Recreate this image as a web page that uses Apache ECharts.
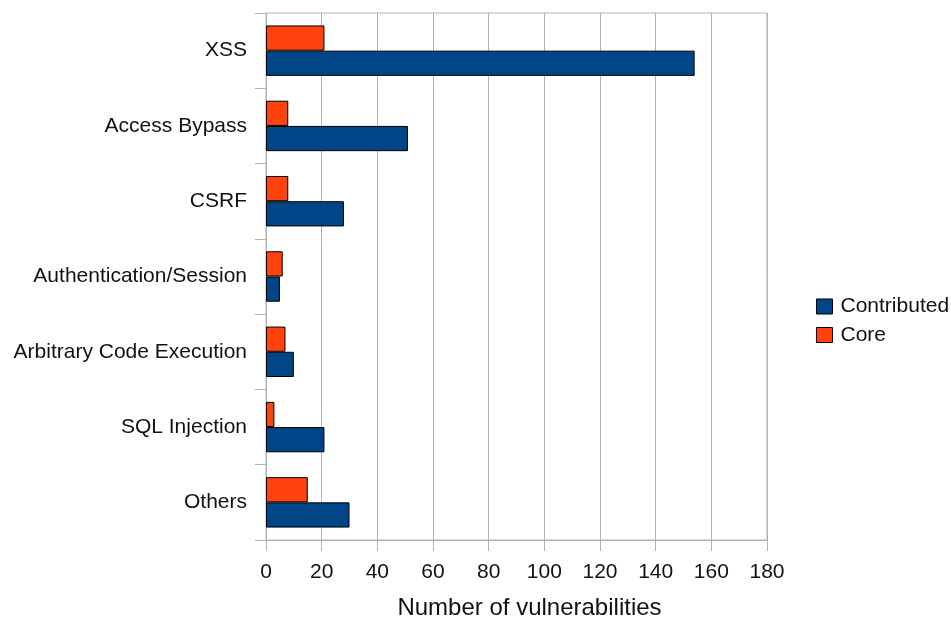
<!DOCTYPE html>
<html><head><meta charset="utf-8">
<script src="https://cdn.jsdelivr.net/npm/echarts@6/dist/echarts.min.js"></script>
<style>html,body{margin:0;padding:0;background:#fff}#c{width:951px;height:620px}</style>
</head><body><div id="c"></div>
<script>
const categories = ['XSS','Access Bypass','CSRF','Authentication/Session','Arbitrary Code Execution','SQL Injection','Others'];
const contributed = [154, 51, 28, 5, 10, 21, 30];
const core = [21, 8, 8, 6, 7, 3, 15];
const xTicks = {min: 0, max: 180, interval: 20};

const chart = echarts.init(document.getElementById('c'));
const font = 'Liberation Sans, Arial, sans-serif';
chart.setOption({
  animation: false,
  textStyle: {fontFamily: font},
  grid: {left: 266, right: 184, top: 13, bottom: 80, show: true, borderColor: '#b3b3b3', borderWidth: 1,
         outerBoundsMode: 'none', containLabel: false},
  legend: {
    orient: 'vertical', left: 811, top: 291, itemWidth: 16, itemHeight: 15, itemGap: 7.5,
    icon: 'rect',
    data: ['Contributed', 'Core'],
    textStyle: {fontSize: 21, color: '#111', fontFamily: font, padding: [0,0,0,3]},
    itemStyle: {borderColor: '#000', borderWidth: 1}
  },
  xAxis: {
    type: 'value', min: xTicks.min, max: xTicks.max, interval: xTicks.interval,
    name: 'Number of vulnerabilities', nameLocation: 'middle', nameGap: 56,
    nameTextStyle: {fontSize: 24, color: '#111', fontFamily: font, padding: [0,0,0,26]},
    axisLine: {show: true, lineStyle: {color: '#b3b3b3'}},
    axisTick: {show: true, length: 11, lineStyle: {color: '#b3b3b3'}},
    axisLabel: {fontSize: 21, color: '#111', margin: 22, fontFamily: font},
    splitLine: {show: true, lineStyle: {color: '#b3b3b3'}}
  },
  yAxis: {
    type: 'category', data: categories, inverse: true,
    axisLine: {show: true, lineStyle: {color: '#b3b3b3'}},
    axisTick: {show: true, length: 11, lineStyle: {color: '#b3b3b3'}},
    axisLabel: {fontSize: 21, color: '#111', margin: 19, fontFamily: font},
    splitLine: {show: false}
  },
  series: [
    {name: 'Core', type: 'bar', data: core, barGap: '0%', barCategoryGap: '33%',
     itemStyle: {color: '#ff420e', borderColor: '#000', borderWidth: 1}},
    {name: 'Contributed', type: 'bar', data: contributed, barGap: '0%', barCategoryGap: '33%',
     itemStyle: {color: '#004586', borderColor: '#000', borderWidth: 1}}
  ]
});
</script></body></html>
